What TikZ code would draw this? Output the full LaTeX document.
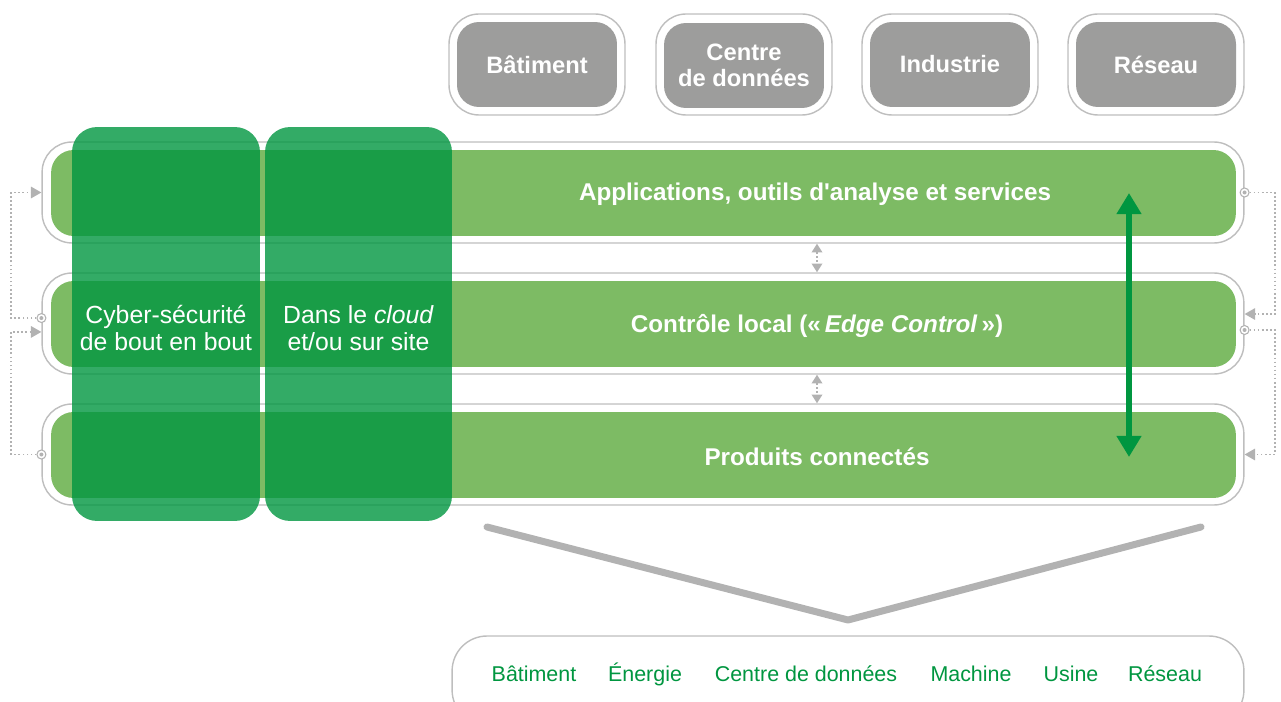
\documentclass[tikz,border=0pt]{standalone}
\usepackage{fontspec}
\setmainfont{Liberation Sans}
\usetikzlibrary{arrows.meta}

\definecolor{layergreen}{RGB}{125,187,100}
\definecolor{darkgreen}{RGB}{0,150,64}
\definecolor{boxgray}{RGB}{157,157,156}
\definecolor{edgegray}{RGB}{190,190,190}
\definecolor{dotgray}{RGB}{178,178,178}

\tikzset{
  shell/.style={draw=edgegray, line width=0.8pt, fill=white, rounded corners=0.6cm, inner sep=0pt},
  market/.style={fill=boxgray, text=white, rounded corners=0.44cm, minimum width=3.2cm, minimum height=1.7cm,
    align=center, inner sep=0pt, font={\fontsize{13.5}{14.7}\bfseries\selectfont}},
  layer/.style={fill=layergreen, rounded corners=0.45cm, minimum width=23.7cm, minimum height=1.72cm, inner sep=0pt},
  layertext/.style={text=white, font={\fontsize{13.8}{16}\bfseries\selectfont}},
  pillar/.style={fill=darkgreen, fill opacity=0.8, rounded corners=0.5cm, minimum height=7.88cm, inner sep=0pt},
  pillartext/.style={text=white, align=center, inner sep=0pt, font={\fontsize{14.1}{15.5}\selectfont}},
  port/.style={circle, draw=dotgray, fill=white, line width=0.6pt, minimum size=0.18cm, inner sep=0pt,
    path picture={\fill[dotgray] (path picture bounding box.center) circle (0.04cm);}},
  feed/.style={dotgray, line width=1.1pt, dash pattern=on 1pt off 1.3pt, -{Triangle[width=6.5pt,length=6pt]}},
  link/.style={dotgray, line width=1pt, dash pattern=on 1pt off 1.3pt,
    {Triangle[width=6pt,length=5pt]}-{Triangle[width=6pt,length=5pt]}},
  sync/.style={darkgreen, line width=3.4pt, {Triangle[width=13.5pt,length=12pt]}-{Triangle[width=13.5pt,length=12pt]}},
  sector/.style={text=darkgreen, font={\fontsize{12.2}{14}\selectfont}}
}

\begin{document}
\begin{tikzpicture}[x=0.02cm, y=-0.02cm]
  \useasboundingbox (0,0) rectangle (1281,702);

  % Vertical markets
  \node[shell, minimum width=3.52cm, minimum height=2.02cm] (batOut) at (537,64.5) {};
  \node[market] (bat) at (537,64.5) {Bâtiment};
  \node[shell, minimum width=3.52cm, minimum height=2.02cm] (cddOut) at (744,64.5) {};
  \node[market] (cdd) at (744,65.5) {Centre\\de données};
  \node[shell, minimum width=3.52cm, minimum height=2.02cm] (indOut) at (950,64.5) {};
  \node[market] (ind) at (950,64.5) {Industrie};
  \node[shell, minimum width=3.52cm, minimum height=2.02cm] (resOut) at (1156,64.5) {};
  \node[market] (res) at (1156,64.5) {Réseau};

  % Layer 1: applications
  \node[shell, minimum width=24.04cm, minimum height=2.02cm] (appsOut) at (643,192.5) {};
  \node[layer] (apps) at (643.5,193) {};
  \node[layertext] (appsLbl) at (815,194) {Applications, outils d\textquotesingle analyse et services};

  % Layer 2: edge control
  \node[shell, minimum width=24.04cm, minimum height=2.02cm] (ctrlOut) at (643,323.5) {};
  \node[layer] (ctrl) at (643.5,324) {};
  \node[layertext] (ctrlLbl) at (817,326) {Contrôle local («\,\textit{Edge Control}\,»)};

  % Layer 3: connected products
  \node[shell, minimum width=24.04cm, minimum height=2.02cm] (prodOut) at (643,454.5) {};
  \node[layer] (prod) at (643.5,455) {};
  \node[layertext] (prodLbl) at (817,457) {Produits connectés};

  % Links between layers
  \draw[link] (ctrlLbl |- appsOut.south) -- (ctrlLbl |- ctrlOut.north);
  \draw[link] (ctrlLbl |- ctrlOut.south) -- (prodLbl |- prodOut.north);

  % Feedback loops, left
  \node[port] (pL2) at ([yshift=3.1pt]ctrlOut.west) {};
  \node[port] (pL3) at (prodOut.west) {};
  \draw[feed] (pL2.west) -- ++(-25,0) |- (appsOut.west);
  \draw[feed] (pL3.west) -- ++(-25,0) |- ([yshift=-4.8pt]ctrlOut.west);

  % Feedback loops, right
  \node[port] (pR1) at (appsOut.east) {};
  \node[port] (pR2) at ([yshift=-3.7pt]ctrlOut.east) {};
  \draw[feed] (pR1.east) -- ++(25,0) |- ([yshift=5.4pt]ctrlOut.east);
  \draw[feed] (pR2.east) -- ++(25,0) |- (prodOut.east);

  % Cross-cutting pillars
  \node[pillar, minimum width=3.76cm] (cyber) at (166,324) {};
  \node[pillartext] (cyberLbl) at (166,328) {Cyber-sécurité\\de bout en bout};
  \node[pillar, minimum width=3.74cm] (cloud) at (358.5,324) {};
  \node[pillartext] (cloudLbl) at (358.5,328) {Dans le \textit{cloud}\\et/ou sur site};

  % Top to bottom arrow
  \coordinate (syncTop) at (1129,193);
  \coordinate (syncBot) at (1129,457);
  \draw[sync] (syncTop) -- (syncBot);

  % Funnel
  \coordinate (vL) at (487,527);
  \coordinate (vM) at (848,620);
  \coordinate (vR) at (1201,527);
  \draw[dotgray, line width=0.14cm, line cap=round, line join=round] (vL) -- (vM) -- (vR);

  % End markets
  \node[shell, rounded corners=0.7cm, minimum width=15.84cm, minimum height=1.78cm] (domains) at (848,680.5) {};
  \node[sector] (dBat) at (534,674) {Bâtiment};
  \node[sector] (dEne) at (645,674) {Énergie};
  \node[sector] (dCdd) at (806,674) {Centre de données};
  \node[sector] (dMac) at (971,674) {Machine};
  \node[sector] (dUsi) at (1071,674) {Usine};
  \node[sector] (dRes) at (1165,674) {Réseau};
\end{tikzpicture}
\end{document}
